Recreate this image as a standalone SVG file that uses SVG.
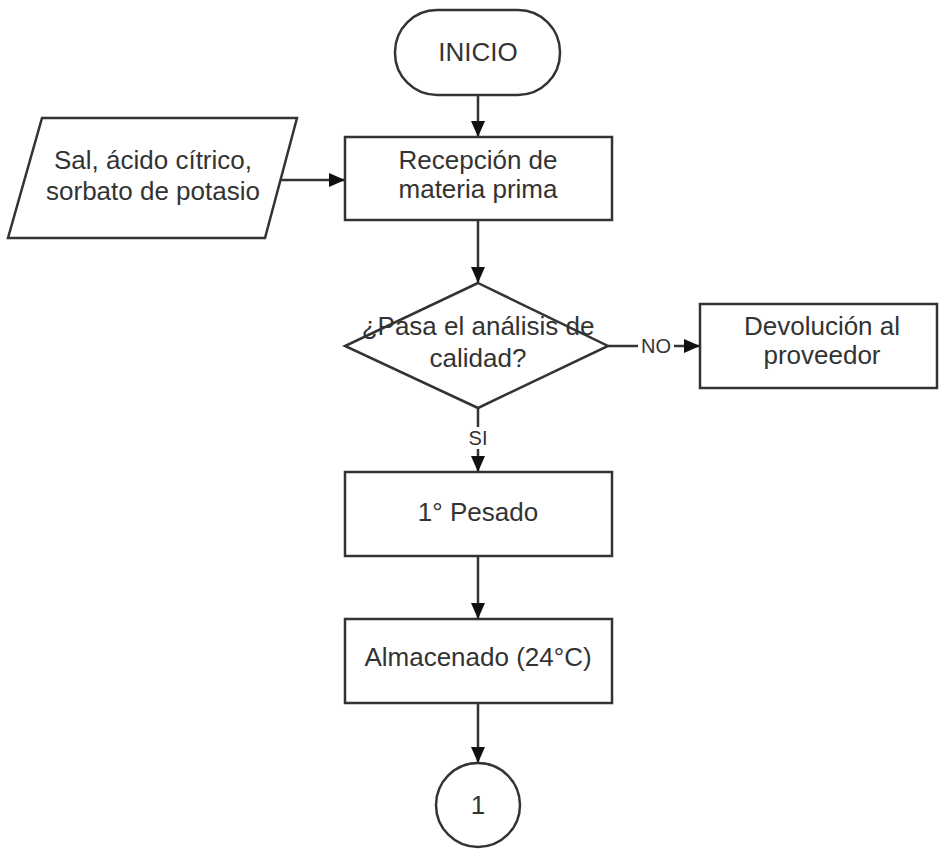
<svg xmlns="http://www.w3.org/2000/svg" width="940" height="849" viewBox="0 0 940 849">
  <style>
    .shape { fill: #ffffff; stroke: #333333; stroke-width: 2.5; }
    .label { font-family: "Liberation Sans", Arial, sans-serif; font-size: 26px; fill: #333333; text-anchor: middle; }
    .small { font-family: "Liberation Sans", Arial, sans-serif; font-size: 20px; fill: #333333; text-anchor: middle; }
    .edge { fill: none; stroke: #333333; stroke-width: 2.5; marker-end: url(#arrow); }
  </style>
  <defs>
    <marker id="arrow" markerUnits="userSpaceOnUse" markerWidth="16" markerHeight="14" refX="16" refY="7" orient="auto">
      <path d="M0,0 L16,7 L0,14 z" fill="#111111"/>
    </marker>
  </defs>
  <rect width="940" height="849" fill="#ffffff"/>

  <g id="connectors">
    <line class="edge" x1="478" y1="95" x2="478" y2="137"/>
    <line class="edge" x1="281" y1="180" x2="345" y2="180"/>
    <line class="edge" x1="478" y1="220" x2="478" y2="283"/>
    <line class="edge" x1="608" y1="346" x2="700" y2="346"/>
    <line class="edge" x1="478" y1="408" x2="478" y2="472"/>
    <line class="edge" x1="478" y1="556" x2="478" y2="619"/>
    <line class="edge" x1="478" y1="703" x2="478" y2="763"/>
    <rect x="638" y="335" width="36" height="22" fill="#ffffff"/>
    <text class="small" x="656" y="353">NO</text>
    <rect x="465" y="427" width="26" height="22" fill="#ffffff"/>
    <text class="small" x="478" y="445">SI</text>
  </g>

  <g id="inicio">
    <rect class="shape" x="395" y="10" width="165" height="85" rx="42" ry="42"/>
    <text class="label" x="478" y="61">INICIO</text>
  </g>

  <g id="insumos">
    <polygon class="shape" points="42,118 297,118 265,238 8,238"/>
    <text class="label" x="153" y="169">Sal, ácido cítrico,</text>
    <text class="label" x="153" y="200">sorbato de potasio</text>
  </g>

  <g id="recepcion">
    <rect class="shape" x="345" y="137" width="267" height="83"/>
    <text class="label" x="478" y="169">Recepción de</text>
    <text class="label" x="478" y="198">materia prima</text>
  </g>

  <g id="calidad">
    <polygon class="shape" points="478,283 608,346 478,408 345,346"/>
    <text class="label" x="478" y="335">¿Pasa el análisis de</text>
    <text class="label" x="478" y="367">calidad?</text>
  </g>

  <g id="devolucion">
    <rect class="shape" x="700" y="304" width="237" height="84"/>
    <text class="label" x="822" y="335">Devolución al</text>
    <text class="label" x="822" y="364">proveedor</text>
  </g>

  <g id="pesado">
    <rect class="shape" x="345" y="472" width="267" height="84"/>
    <text class="label" x="478" y="521">1° Pesado</text>
  </g>

  <g id="almacenado">
    <rect class="shape" x="345" y="619" width="267" height="84"/>
    <text class="label" x="478" y="666">Almacenado (24°C)</text>
  </g>

  <g id="conector-1">
    <circle class="shape" cx="478" cy="805" r="42"/>
    <text class="label" x="478" y="814">1</text>
  </g>
</svg>
